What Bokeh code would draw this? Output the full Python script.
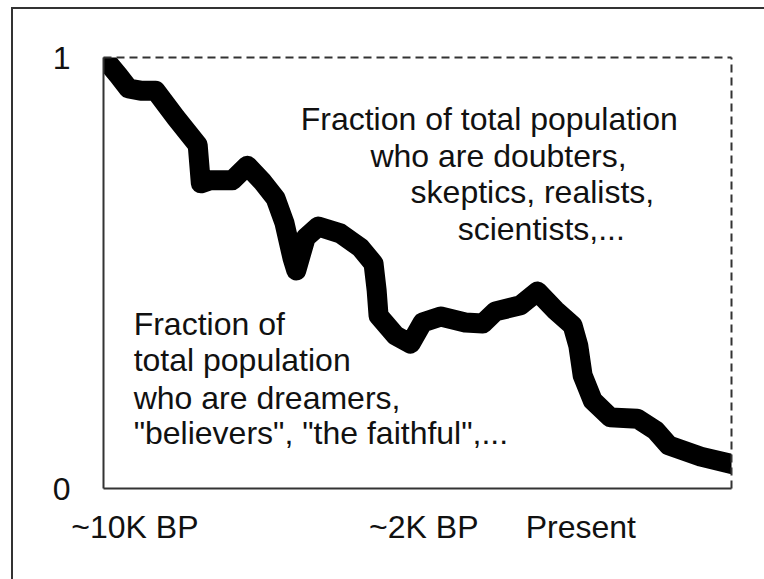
from bokeh.plotting import figure
from bokeh.models import LinearAxis, FixedTicker, Label, Range1d, GlobalInlineStyleSheet
from bokeh.embed import file_html
from bokeh.resources import INLINE

# ---- data (x: share of the time span, 0..100; y: fraction of population) ----
time_pos = [0, 2.4, 4.0, 5.9, 8.3, 11.5, 15.0, 15.5, 17.0, 20.5, 22.9, 25.3, 27.4,
            28.8, 30.1, 30.7, 32.2, 34.2, 37.7, 40.9, 43.0, 43.5, 43.8, 46.5, 48.9,
            50.8, 53.7, 57.6, 60.4, 62.4, 66.4, 69.1, 72.0, 74.7, 75.6, 76.3, 77.9,
            80.7, 85.0, 87.9, 90.0, 95.1, 100.0]
fraction = [1.0, 0.958, 0.928, 0.923, 0.923, 0.861, 0.797, 0.708, 0.715, 0.715,
            0.749, 0.712, 0.673, 0.617, 0.534, 0.506, 0.582, 0.608, 0.592, 0.559,
            0.522, 0.459, 0.401, 0.355, 0.336, 0.385, 0.399, 0.385, 0.383, 0.411,
            0.425, 0.457, 0.413, 0.378, 0.332, 0.262, 0.204, 0.165, 0.162, 0.135,
            0.100, 0.074, 0.057]

x_tick_pos = [5, 51, 76]
x_tick_labels = ["~10K BP", "~2K BP", "Present"]
y_tick_pos = [0, 1]
y_tick_labels = ["0", "1"]

top_lines = ["Fraction of total population", "who are doubters,",
             "skeptics, realists,", "scientists,..."]
bottom_lines = ["Fraction of", "total population", "who are dreamers,",
                '"believers", "the faithful",...']

# ---- annotation placement (data units) ----
top_x = [31.4, 42.5, 48.9, 56.4]
top_y = [0.858, 0.772, 0.687, 0.601]
bot_x = [4.8, 4.8, 4.8, 4.8]
bot_y = [0.381, 0.297, 0.211, 0.128]

FONT = "Liberation Sans"
FSIZE = "32px"
AX = "#333333"

p = figure(width=748, height=563, output_backend="svg", toolbar_location=None,
           x_range=Range1d(0, 100), y_range=Range1d(0, 1),
           x_axis_location=None, y_axis_location=None,
           min_border_left=103, min_border_right=17,
           min_border_top=57, min_border_bottom=75)
p.xgrid.visible = False
p.ygrid.visible = False
p.outline_line_color = None
p.background_fill_color = "white"
p.border_fill_color = None

# outer picture border (left and top edges only), drawn on the page behind the canvas
p.stylesheets = [GlobalInlineStyleSheet(css=(
    "html, body { background-color: white; }"
    "body {"
    f" background-image: linear-gradient({AX}, {AX}), linear-gradient({AX}, {AX});"
    " background-size: 2px 100%, 100% 2px;"
    " background-position: 11px 7px, 11px 7px;"
    " background-repeat: no-repeat; }"
))]


def base_axis(**kw):
    ax = LinearAxis(axis_line_color=AX, axis_line_width=2,
                    major_tick_line_color=None, minor_tick_line_color=None,
                    major_tick_in=0, major_tick_out=0,
                    major_label_text_font=FONT, major_label_text_font_size=FSIZE,
                    major_label_text_color="#111111", **kw)
    return ax


yax = base_axis(ticker=FixedTicker(ticks=y_tick_pos),
                major_label_overrides={t: l for t, l in zip(y_tick_pos, y_tick_labels)},
                major_label_standoff=33)
p.add_layout(yax, "left")

xax = base_axis(ticker=FixedTicker(ticks=x_tick_pos),
                major_label_overrides={t: l for t, l in zip(x_tick_pos, x_tick_labels)},
                major_label_standoff=20)
p.add_layout(xax, "below")

for loc in ("above", "right"):
    dax = LinearAxis(ticker=FixedTicker(ticks=[]), axis_line_color=AX,
                     axis_line_width=2, axis_line_dash="8 5",
                     major_tick_line_color=None, minor_tick_line_color=None,
                     major_label_text_font_size="0px",
                     major_tick_in=0, major_tick_out=0)
    p.add_layout(dax, loc)

p.line(time_pos, fraction, line_width=20, line_color="black",
       line_join="round", line_cap="round")

for txt, x, y in zip(top_lines, top_x, top_y):
    p.add_layout(Label(x=x, y=y, text=txt, text_font=FONT, text_font_size=FSIZE,
                       text_color="#111111", text_baseline="alphabetic"))
for txt, x, y in zip(bottom_lines, bot_x, bot_y):
    p.add_layout(Label(x=x, y=y, text=txt, text_font=FONT, text_font_size=FSIZE,
                       text_color="#111111", text_baseline="alphabetic"))

open("out.html", "w").write(file_html(p, INLINE))
